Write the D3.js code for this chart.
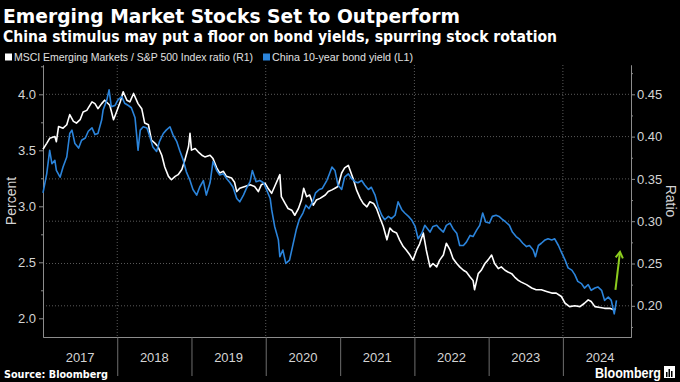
<!DOCTYPE html>
<html><head><meta charset="utf-8">
<script src="https://cdn.jsdelivr.net/npm/d3@7"></script>
<style>html,body{margin:0;padding:0;background:#000;}svg{display:block;}</style>
</head><body>
<script>
// ---- data ----
const ratioYears = [2017.00,2017.05,2017.09,2017.16,2017.18,2017.21,2017.27,2017.32,2017.36,2017.41,2017.45,2017.50,2017.54,2017.59,2017.66,2017.70,2017.74,2017.79,2017.83,2017.90,2017.95,2017.99,2018.04,2018.08,2018.13,2018.17,2018.22,2018.28,2018.33,2018.37,2018.42,2018.46,2018.51,2018.55,2018.60,2018.64,2018.69,2018.73,2018.78,2018.82,2018.87,2018.91,2018.96,2018.98,2019.00,2019.05,2019.09,2019.14,2019.18,2019.25,2019.29,2019.34,2019.38,2019.43,2019.47,2019.54,2019.58,2019.61,2019.65,2019.72,2019.79,2019.85,2019.90,2019.94,2019.99,2020.03,2020.08,2020.12,2020.19,2020.21,2020.26,2020.30,2020.35,2020.39,2020.44,2020.48,2020.51,2020.55,2020.59,2020.64,2020.68,2020.73,2020.80,2020.84,2020.89,2020.93,2020.97,2021.02,2021.06,2021.11,2021.13,2021.18,2021.22,2021.27,2021.31,2021.36,2021.40,2021.45,2021.49,2021.54,2021.58,2021.63,2021.67,2021.71,2021.76,2021.80,2021.85,2021.89,2021.94,2021.98,2022.03,2022.07,2022.12,2022.16,2022.21,2022.25,2022.30,2022.34,2022.39,2022.43,2022.48,2022.52,2022.57,2022.61,2022.66,2022.70,2022.75,2022.79,2022.81,2022.86,2022.90,2022.95,2022.99,2023.04,2023.08,2023.13,2023.17,2023.22,2023.26,2023.31,2023.35,2023.40,2023.44,2023.51,2023.58,2023.64,2023.71,2023.78,2023.85,2023.91,2023.98,2024.03,2024.09,2024.16,2024.23,2024.29,2024.34,2024.38,2024.43,2024.50,2024.56,2024.63,2024.69,2024.71];
const ratioValues = [0.385,0.392,0.398,0.400,0.394,0.412,0.410,0.414,0.426,0.418,0.416,0.420,0.429,0.431,0.441,0.439,0.433,0.439,0.443,0.437,0.420,0.429,0.441,0.453,0.443,0.441,0.451,0.439,0.433,0.416,0.414,0.396,0.392,0.388,0.378,0.364,0.353,0.349,0.353,0.355,0.361,0.372,0.388,0.404,0.384,0.386,0.382,0.378,0.376,0.378,0.374,0.363,0.357,0.359,0.353,0.351,0.346,0.335,0.339,0.341,0.343,0.341,0.335,0.343,0.345,0.339,0.333,0.341,0.355,0.329,0.321,0.315,0.313,0.307,0.315,0.325,0.339,0.329,0.331,0.319,0.325,0.327,0.331,0.335,0.337,0.339,0.341,0.357,0.363,0.366,0.361,0.349,0.337,0.327,0.321,0.317,0.323,0.321,0.315,0.303,0.294,0.278,0.292,0.288,0.286,0.278,0.270,0.266,0.260,0.254,0.266,0.273,0.286,0.266,0.246,0.250,0.246,0.254,0.260,0.274,0.266,0.256,0.250,0.246,0.242,0.240,0.234,0.230,0.219,0.238,0.242,0.250,0.254,0.260,0.250,0.244,0.246,0.242,0.240,0.238,0.234,0.230,0.228,0.225,0.221,0.219,0.219,0.217,0.215,0.215,0.211,0.203,0.199,0.200,0.199,0.203,0.207,0.205,0.199,0.198,0.197,0.197,0.195,0.197];

const yieldYears = [2017.00,2017.05,2017.09,2017.12,2017.16,2017.18,2017.23,2017.27,2017.32,2017.36,2017.39,2017.43,2017.48,2017.52,2017.57,2017.61,2017.66,2017.70,2017.74,2017.79,2017.81,2017.86,2017.89,2017.92,2017.97,2018.01,2018.06,2018.10,2018.15,2018.19,2018.24,2018.28,2018.31,2018.35,2018.40,2018.44,2018.48,2018.53,2018.57,2018.62,2018.66,2018.71,2018.75,2018.80,2018.84,2018.89,2018.93,2018.98,2019.02,2019.07,2019.11,2019.16,2019.20,2019.25,2019.29,2019.34,2019.38,2019.43,2019.47,2019.52,2019.56,2019.61,2019.65,2019.70,2019.74,2019.79,2019.82,2019.87,2019.92,2019.97,2020.01,2020.06,2020.08,2020.12,2020.17,2020.19,2020.23,2020.27,2020.32,2020.36,2020.41,2020.45,2020.50,2020.54,2020.58,2020.63,2020.67,2020.72,2020.76,2020.82,2020.85,2020.89,2020.93,2020.97,2021.02,2021.06,2021.11,2021.15,2021.20,2021.24,2021.29,2021.33,2021.38,2021.42,2021.47,2021.51,2021.56,2021.60,2021.65,2021.69,2021.74,2021.78,2021.83,2021.87,2021.92,2021.96,2022.01,2022.05,2022.10,2022.14,2022.21,2022.25,2022.30,2022.34,2022.39,2022.43,2022.48,2022.52,2022.57,2022.61,2022.66,2022.70,2022.75,2022.79,2022.84,2022.88,2022.92,2022.96,2023.01,2023.05,2023.10,2023.14,2023.19,2023.23,2023.28,2023.32,2023.37,2023.41,2023.46,2023.51,2023.55,2023.60,2023.63,2023.67,2023.71,2023.76,2023.80,2023.85,2023.89,2023.94,2023.98,2024.03,2024.07,2024.12,2024.16,2024.20,2024.25,2024.29,2024.34,2024.38,2024.43,2024.47,2024.52,2024.56,2024.61,2024.65,2024.69,2024.72];
const yieldValues = [3.12,3.29,3.50,3.38,3.41,3.32,3.26,3.35,3.44,3.65,3.68,3.56,3.52,3.59,3.61,3.67,3.70,3.64,3.65,3.77,3.86,3.95,4.04,3.89,3.90,3.95,3.98,3.92,3.90,3.88,3.79,3.50,3.68,3.71,3.70,3.62,3.53,3.49,3.58,3.65,3.68,3.71,3.64,3.58,3.50,3.41,3.31,3.23,3.15,3.10,3.17,3.23,3.10,3.21,3.40,3.32,3.28,3.29,3.25,3.21,3.17,3.07,3.04,3.10,3.16,3.22,3.32,3.22,3.23,3.21,3.15,3.07,2.97,2.82,2.70,2.55,2.61,2.49,2.52,2.64,2.79,2.88,2.94,3.01,2.98,3.04,3.12,3.15,3.16,3.23,3.28,3.35,3.32,3.19,3.15,3.26,3.29,3.25,3.22,3.21,3.23,3.19,3.15,3.17,3.10,3.00,2.92,2.88,2.91,2.89,2.92,3.04,2.97,2.94,2.91,2.88,2.82,2.71,2.76,2.83,2.77,2.82,2.83,2.80,2.77,2.83,2.85,2.80,2.76,2.65,2.65,2.68,2.74,2.73,2.79,2.83,2.94,2.86,2.85,2.91,2.92,2.91,2.88,2.86,2.83,2.77,2.73,2.71,2.67,2.64,2.65,2.61,2.55,2.65,2.67,2.70,2.71,2.70,2.71,2.65,2.59,2.52,2.45,2.43,2.39,2.33,2.31,2.27,2.30,2.25,2.27,2.28,2.25,2.16,2.19,2.16,2.04,2.16];

const yearLabels = ["2017","2018","2019","2020","2021","2022","2023","2024"];
const leftTicks = [2.0, 2.5, 3.0, 3.5, 4.0];
const leftMinor = [2.25, 2.75, 3.25, 3.75, 4.25];
const rightTicks = [0.20, 0.25, 0.30, 0.35, 0.40, 0.45];
const rightMinor = [0.175, 0.225, 0.275, 0.325, 0.375, 0.425, 0.475];
const gridYears = [2018, 2020, 2022, 2024];
// annotation arrow (date, ratio) tail -> head
const arrowYears = [2024.706, 2024.767];
const arrowRatios = [0.2187, 0.2636];

const titleText = "Emerging Market Stocks Set to Outperform";
const subtitleText = "China stimulus may put a floor on bond yields, spurring stock rotation";
const legendLabels = ["MSCI Emerging Markets / S&P 500 Index ratio (R1)", "China 10-year bond yield (L1)"];

// ---- helpers ----
function yd(t){const y=Math.floor(t);const s=Date.UTC(y,0,1),e=Date.UTC(y+1,0,1);return new Date(s+(t-y)*(e-s));}

const W=680,H=382;
const L=43,R=631,T=65,B=337;
const white="#ffffff", blue="#2b84db", green="#8ccc1e";

const svg=d3.select("body").append("svg").attr("width",W).attr("height",H).style("background","#000");

const x=d3.scaleUtc().domain([yd(2017),yd(2024.915)]).range([L,R]);
const yL=d3.scaleLinear().domain([1.833,4.2616]).range([B,T]);
const yR=d3.scaleLinear().domain([0.16312,0.48463]).range([B,T]);

// grid
const grid=svg.append("g");
grid.selectAll("line.h").data(rightTicks).join("line")
  .attr("x1",L).attr("x2",R).attr("y1",d=>yR(d)).attr("y2",d=>yR(d))
  .attr("stroke","#5a5a5a").attr("stroke-width",1).attr("stroke-dasharray","1,2");
grid.selectAll("line.v").data(gridYears).join("line")
  .attr("x1",d=>x(yd(d))).attr("x2",d=>x(yd(d))).attr("y1",T).attr("y2",B)
  .attr("stroke","#5a5a5a").attr("stroke-width",1).attr("stroke-dasharray","1,2");

// axes
const axisColor="#8c8c8c", labelColor="#d4d4d4";
function styleAxis(g){g.select(".domain").attr("stroke",axisColor);g.selectAll(".tick line").attr("stroke",axisColor);g.selectAll("text").attr("fill",labelColor).style("font-family","'Liberation Sans Narrow','Liberation Sans',Arial,sans-serif").style("font-size","13px");}

const gl=svg.append("g").attr("transform",`translate(${L},0)`)
  .call(d3.axisLeft(yL).tickValues(leftTicks).tickFormat(d3.format(".1f")).tickSize(4).tickPadding(3).tickSizeOuter(0));
styleAxis(gl);
const glm=svg.append("g").attr("transform",`translate(${L},0)`)
  .call(d3.axisLeft(yL).tickValues(leftMinor.filter(v=>yL(v)>=T)).tickFormat("").tickSize(2).tickSizeOuter(0));
styleAxis(glm);

const gr=svg.append("g").attr("transform",`translate(${R},0)`)
  .call(d3.axisRight(yR).tickValues(rightTicks).tickFormat(d3.format(".2f")).tickSize(4).tickPadding(2).tickSizeOuter(0));
styleAxis(gr);
const grm=svg.append("g").attr("transform",`translate(${R},0)`)
  .call(d3.axisRight(yR).tickValues(rightMinor.filter(v=>yR(v)>=T&&yR(v)<=B)).tickFormat("").tickSize(2).tickSizeOuter(0));
styleAxis(grm);

// bottom axis: baseline + year separators
const gx=svg.append("g").attr("transform",`translate(0,${B})`)
  .call(d3.axisBottom(x).tickValues(yearLabels.slice(1).map(s=>yd(+s))).tickFormat("").tickSize(39).tickSizeOuter(0));
gx.select(".domain").attr("stroke",axisColor);
gx.selectAll(".tick line").attr("stroke","#6e6e6e");
svg.append("g").selectAll("text").data(yearLabels).join("text")
  .attr("x",d=>x(yd(+d+0.5))).attr("y",362).attr("text-anchor","middle")
  .attr("fill",labelColor).style("font-family","'Liberation Sans Narrow','Liberation Sans',Arial,sans-serif").style("font-size","13px")
  .text(d=>d);

// axis titles
svg.append("text").attr("transform","translate(16,201) rotate(-90)").attr("text-anchor","middle")
  .attr("fill",labelColor).style("font-family","'Liberation Sans',Arial,sans-serif").style("font-size","14px").text("Percent");
svg.append("text").attr("transform","translate(666,201) rotate(90)").attr("text-anchor","middle")
  .attr("fill",labelColor).style("font-family","'Liberation Sans',Arial,sans-serif").style("font-size","14px").text("Ratio");

// lines
const ratioData=ratioYears.map((t,i)=>({d:yd(t),v:ratioValues[i]}));
const yieldData=yieldYears.map((t,i)=>({d:yd(t),v:yieldValues[i]}));
svg.append("path").datum(ratioData).attr("fill","none").attr("stroke",white).attr("stroke-width",1.6).attr("stroke-linejoin","round")
  .attr("d",d3.line().x(p=>x(p.d)).y(p=>yR(p.v)));
svg.append("path").datum(yieldData).attr("fill","none").attr("stroke",blue).attr("stroke-width",1.6).attr("stroke-linejoin","round")
  .attr("d",d3.line().x(p=>x(p.d)).y(p=>yL(p.v)));

// arrow annotation
const ax1=x(yd(arrowYears[0])),ay1=yR(arrowRatios[0]),ax2=x(yd(arrowYears[1])),ay2=yR(arrowRatios[1]);
const ang=Math.atan2(ay2-ay1,ax2-ax1), hl=7, ha=0.55;
svg.append("line").attr("x1",ax1).attr("y1",ay1).attr("x2",ax2).attr("y2",ay2).attr("stroke",green).attr("stroke-width",2);
svg.append("path").attr("d",`M${ax2-hl*Math.cos(ang-ha)},${ay2-hl*Math.sin(ang-ha)}L${ax2},${ay2}L${ax2-hl*Math.cos(ang+ha)},${ay2-hl*Math.sin(ang+ha)}`)
  .attr("fill","none").attr("stroke",green).attr("stroke-width",2).attr("stroke-linejoin","miter");

// title / subtitle
svg.append("text").attr("x",3).attr("y",23).attr("fill","#fff").style("font-family","'DejaVu Sans',sans-serif").style("font-weight","bold").style("font-size","20px")
  .attr("textLength",457).attr("lengthAdjust","spacingAndGlyphs").text(titleText);
svg.append("text").attr("x",3).attr("y",42).attr("fill","#fff").style("font-family","'DejaVu Sans',sans-serif").style("font-weight","bold").style("font-size","15px")
  .attr("textLength",554).attr("lengthAdjust","spacingAndGlyphs").text(subtitleText);

// legend
const lg=svg.append("g");
const legendX=[5,263], legendTextX=[14,272], legendTextW=[239,141], legendCol=[white,blue];
legendLabels.forEach((s,i)=>{
  lg.append("rect").attr("x",legendX[i]).attr("y",53.5).attr("width",7).attr("height",7).attr("fill",legendCol[i]);
  lg.append("text").attr("x",legendTextX[i]).attr("y",61).attr("fill","#e0e0e0")
    .style("font-family","'Liberation Sans Narrow','Liberation Sans',Arial,sans-serif").style("font-size","11px")
    .attr("textLength",legendTextW[i]).attr("lengthAdjust","spacingAndGlyphs").text(s);
});

// footer
svg.append("text").attr("x",4).attr("y",378).attr("fill","#fff").style("font-family","'DejaVu Sans',sans-serif").style("font-weight","bold").style("font-size","11px")
  .attr("textLength",104).attr("lengthAdjust","spacingAndGlyphs").text("Source: Bloomberg");
svg.append("text").attr("x",661).attr("y",378).attr("text-anchor","end").attr("fill","#fff").style("font-family","'Liberation Sans',Arial,sans-serif").style("font-weight","bold").style("font-size","14px")
  .attr("textLength",66).attr("lengthAdjust","spacingAndGlyphs").text("Bloomberg");
const ic=svg.append("g").attr("transform","translate(664,366)");
ic.append("rect").attr("width",11).attr("height",12).attr("fill","#fff");
[[2,6,1.5,5],[4.5,3,1.5,8],[7,5,1.5,6]].forEach(b=>ic.append("rect").attr("x",b[0]).attr("y",b[1]).attr("width",b[2]).attr("height",b[3]).attr("fill","#000"));
</script>
</body></html>
